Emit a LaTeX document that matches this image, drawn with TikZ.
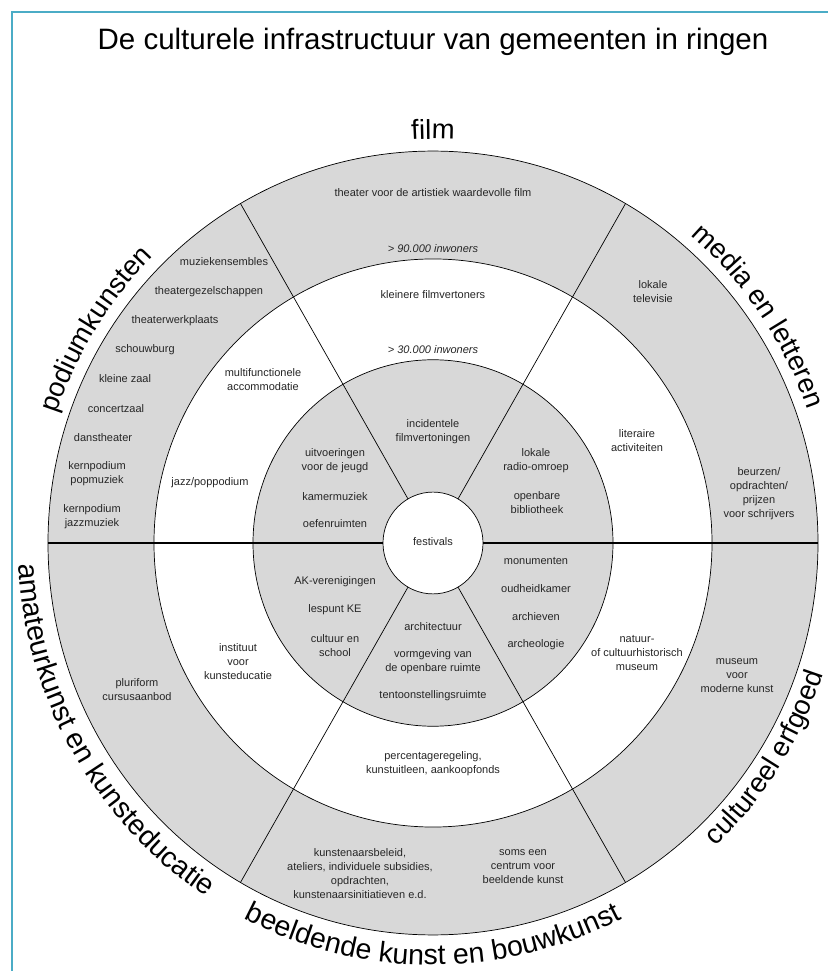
\documentclass[tikz,border=0pt]{standalone}
\usepackage{fontspec}
\setmainfont{Liberation Sans}
\usetikzlibrary{decorations.text}

\definecolor{ringgray}{RGB}{216,216,216}
\definecolor{frameblue}{RGB}{75,172,198}
\newcommand{\lblfont}{\fontsize{11}{14}\selectfont}
\newcommand{\ringfont}{\fontsize{27.5}{30}\selectfont}
\newcommand{\lowringfont}{\fontsize{28.5}{30}\selectfont}

\tikzset{
  lbl/.style={align=center,font=\lblfont,text=black!85,inner sep=0pt},
  ring/.style={draw=black,line width=0.7pt},
  spoke/.style={draw=black,line width=0.7pt},
  ringtext/.style={decorate,decoration={text along path,text align=center,text={|\ringfont|#1}}},
  lowringtext/.style={decorate,decoration={text along path,text align=center,text={|\lowringfont|#1}}}
}

\begin{document}
\begin{tikzpicture}[x=1pt,y=1pt]
    \useasboundingbox (-433,-428) rectangle (395,543);
    \draw[frameblue,line width=2pt] (-421,-428) -- (-421,531) -- (395,531);
    \node[font=\fontsize{29.5}{32}\selectfont] (title) at (0,501) {De culturele infrastructuur van gemeenten in ringen};

    % rings
    \begin{scope}[yscale=1.018]
        \coordinate (c) at (0,0);
        \filldraw[ring,fill=ringgray] (c) circle (385);
        \filldraw[ring,fill=white] (c) circle (279);
        \filldraw[ring,fill=ringgray] (c) circle (180);
        \foreach \a in {60,120,240,300}
            \draw[spoke] (\a:50) -- (\a:385);
        \draw[spoke,line width=1.1pt] (0:50) -- (0:385);
        \draw[spoke,line width=1.1pt] (180:50) -- (180:385);
        \filldraw[ring,fill=white] (c) circle (50);
    \end{scope}

    % sector names
    \path[ringtext={podiumkunsten}] (178:397 and 404) arc[start angle=178,end angle=118,x radius=397,y radius=404];
    \path[ringtext={film}] (120:397 and 404) arc[start angle=120,end angle=60,x radius=397,y radius=404];
    \path[ringtext={media en letteren}] (64.5:397 and 404) arc[start angle=64.5,end angle=4.5,x radius=397,y radius=404];
    \path[lowringtext={amateurkunst en kunsteducatie}] (170:415 and 422) arc[start angle=170,end angle=250,x radius=415,y radius=422];
    \path[lowringtext={beeldende kunst en bouwkunst}] (230:415 and 422) arc[start angle=230,end angle=310,x radius=415,y radius=422];
    \path[ringtext={cultureel erfgoed}] (297.5:411 and 418) arc[start angle=297.5,end angle=357.5,x radius=411,y radius=418];

    \node[lbl] (fest) at (0,1) {festivals};

    % film
    \node[lbl] (theater) at (0,350) {theater voor de artistiek waardevolle film};
    \node[lbl,font=\lblfont\itshape] (inw90) at (0,294) {> 90.000 inwoners};
    \node[lbl] (kleinere) at (0,248) {kleinere filmvertoners};
    \node[lbl,font=\lblfont\itshape] (inw30) at (0,193) {> 30.000 inwoners};
    \node[lbl] (incid) at (0,111) {incidentele\\filmvertoningen};

    % podiumkunsten
    \node[lbl] (ensem) at (-209,281) {muziekensembles};
    \node[lbl] (gezel) at (-224,251) {theatergezelschappen};
    \node[lbl] (werkpl) at (-258,222) {theaterwerkplaats};
    \node[lbl] (schouw) at (-288,193) {schouwburg};
    \node[lbl] (kzaal) at (-308,164) {kleine zaal};
    \node[lbl] (concert) at (-317,134) {concertzaal};
    \node[lbl] (dans) at (-330,105) {danstheater};
    \node[lbl] (kpop) at (-336,69) {kernpodium\\popmuziek};
    \node[lbl] (kjazz) at (-341,26) {kernpodium\\jazzmuziek};
    \node[lbl] (multi) at (-170,163) {multifunctionele\\accommodatie};
    \node[lbl] (jazz) at (-223,60) {jazz/poppodium};
    \node[lbl] (jeugd) at (-98,82) {uitvoeringen\\voor de jeugd};
    \node[lbl] (kamer) at (-98,46) {kamermuziek};
    \node[lbl] (oefen) at (-98,19) {oefenruimten};

    % media en letteren
    \node[lbl] (tv) at (220,251) {lokale\\televisie};
    \node[lbl] (radio) at (103,82) {lokale\\radio-omroep};
    \node[lbl] (biblio) at (104,40) {openbare\\bibliotheek};
    \node[lbl] (litera) at (204,102) {literaire\\activiteiten};
    \node[lbl] (beurz) at (326,49) {beurzen/\\opdrachten/\\prijzen\\voor schrijvers};

    % amateurkunst en kunsteducatie
    \node[lbl] (akver) at (-98,-39) {AK-verenigingen};
    \node[lbl] (lespunt) at (-98,-67) {lespunt KE};
    \node[lbl] (school) at (-98,-103) {cultuur en\\school};
    \node[lbl] (instit) at (-195,-119) {instituut\\voor\\kunsteducatie};
    \node[lbl] (pluri) at (-296,-147) {pluriform\\cursusaanbod};

    % beeldende kunst en bouwkunst
    \node[lbl] (archit) at (0,-84) {architectuur};
    \node[lbl] (vormg) at (0,-119) {vormgeving van\\de openbare ruimte};
    \node[lbl] (tentoon) at (0,-153) {tentoonstellingsruimte};
    \node[lbl] (perc) at (0,-221) {percentageregeling,\\kunstuitleen, aankoopfonds};
    \node[lbl] (kbeleid) at (-73,-331) {kunstenaarsbeleid,\\ateliers, individuele subsidies,\\opdrachten,\\kunstenaarsinitiatieven e.d.};
    \node[lbl] (centrum) at (90,-324) {soms een\\centrum voor\\beeldende kunst};

    % cultureel erfgoed
    \node[lbl] (monum) at (103,-18) {monumenten};
    \node[lbl] (oudh) at (103,-46) {oudheidkamer};
    \node[lbl] (archv) at (103,-74) {archieven};
    \node[lbl] (archeo) at (103,-102) {archeologie};
    \node[lbl] (natuur) at (204,-110) {natuur-\\of cultuurhistorisch\\museum};
    \node[lbl] (modern) at (304,-133) {museum\\voor\\moderne kunst};
\end{tikzpicture}
\end{document}
